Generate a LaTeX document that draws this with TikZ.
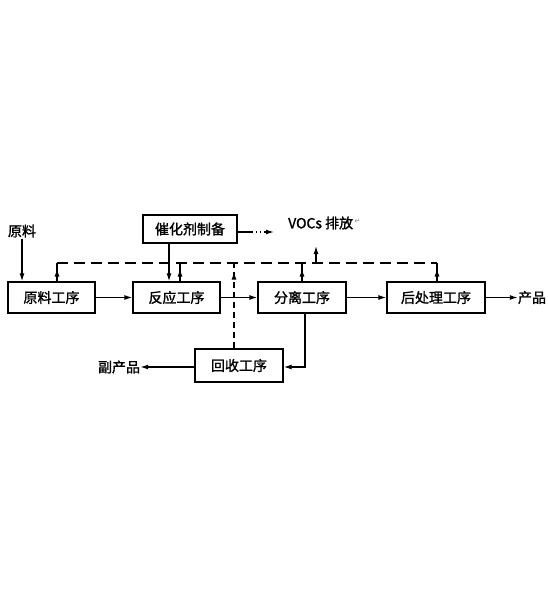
\documentclass[tikz,border=0pt]{standalone}
\usepackage{fontspec}
\setmainfont[FakeBold=1.5,AutoFakeBold=1.5]{Noto Sans CJK SC}
\newfontfamily\dejavu{DejaVu Sans}
\usetikzlibrary{arrows.meta,decorations.markings}
\begin{document}
\begin{tikzpicture}[x=1pt,y=-1pt,
  proc/.style={draw,line width=1.3pt,minimum height=31pt,inner sep=0pt,font=\fontsize{14}{16}\selectfont\bfseries},
  lab/.style={inner sep=0pt,font=\fontsize{14}{16}\selectfont\bfseries},
  tip/.tip={Latex[length=8pt,width=5pt]},
  flow/.style={line width=1.3pt,-tip},
  midup/.style={line width=1.3pt,postaction={decorate},
    decoration={markings,mark=at position 0.7 with {\arrow{tip}}}},
  voc/.style={line width=1.5pt,dash pattern=on 11pt off 6pt},
  vocv/.style={line width=1.5pt,dash pattern=on 6pt off 4pt}
]
\useasboundingbox (0,0) rectangle (548,600);
% boxes
\node[proc,minimum width=87pt] (raw) at (51.5,297.5) {原料工序};
\node[proc,minimum width=87pt] (rxn) at (176.5,297.5) {反应工序};
\node[proc,minimum width=88pt] (sep) at (302,297.5) {分离工序};
\node[proc,minimum width=98pt] (post) at (436,297.5) {后处理工序};
\node[proc,minimum width=94pt,minimum height=28pt] (cat) at (190,229) {催化剂制备};
\node[proc,minimum width=88pt,minimum height=33pt] (rec) at (239,365.5) {回收工序};
% labels
\node[lab] (rawlab) at (22,231) {原料};
\node[lab] (prod) at (532,297.5) {产品};
\node[lab] (byp) at (119,367) {副产品};
\node[lab,anchor=west] (vocs) at (288,223) {VOCs 排放};
\node[inner sep=0pt,anchor=west,font=\dejavu\fontsize{7}{8}\selectfont,text=gray] (pm) at ([yshift=2pt]vocs.east) {\,↵};
% coordinates
\coordinate (dL) at (57,263);
\coordinate (dR) at (437,263);
\coordinate (vocbase) at (316,263);
\coordinate (voctop) at (316,246);
\coordinate (sepdn) at (305,367);
\coordinate (catend) at (274,232);
% main flow
\draw[flow] ([yshift=-1pt]rawlab.south) -- (rawlab.south |- raw.north);
\draw[flow] (raw.east) -- (rxn.west);
\draw[flow] (rxn.east) -- (sep.west);
\draw[flow] (sep.east) -- (post.west);
\draw[flow] (post.east) -- (prod.west);
\draw[flow] (cat.south -| 169,0) -- (rxn.north -| 169,0);
% to VOCs collection
\draw[midup] (raw.north -| dL) -- (dL);
\draw[midup] (rxn.north -| 180,0) -- (180,263);
\draw[midup] (sep.north -| 302,0) -- (302,263);
\draw[midup] (post.north -| dR) -- (dR);
\draw[voc] (dL) -- (dR);
\draw[flow] (vocbase) -- (voctop);
\draw[vocv,postaction={decorate},
  decoration={markings,mark=at position 0.9 with {\arrow{tip}}}]
  (rec.north -| 234,0) -- (234,263);
% recovery
\draw[flow] (sep.south -| sepdn) -- (sepdn) -- (rec.east |- sepdn);
\draw[flow] (rec.west |- byp) -- (byp.east);
% catalyst emission
\draw[line width=1.3pt,dash pattern=on 15pt off 3pt on 1.5pt off 2.5pt on 1.5pt off 2.5pt,-tip] (cat.east |- catend) -- (catend);
\end{tikzpicture}
\end{document}
